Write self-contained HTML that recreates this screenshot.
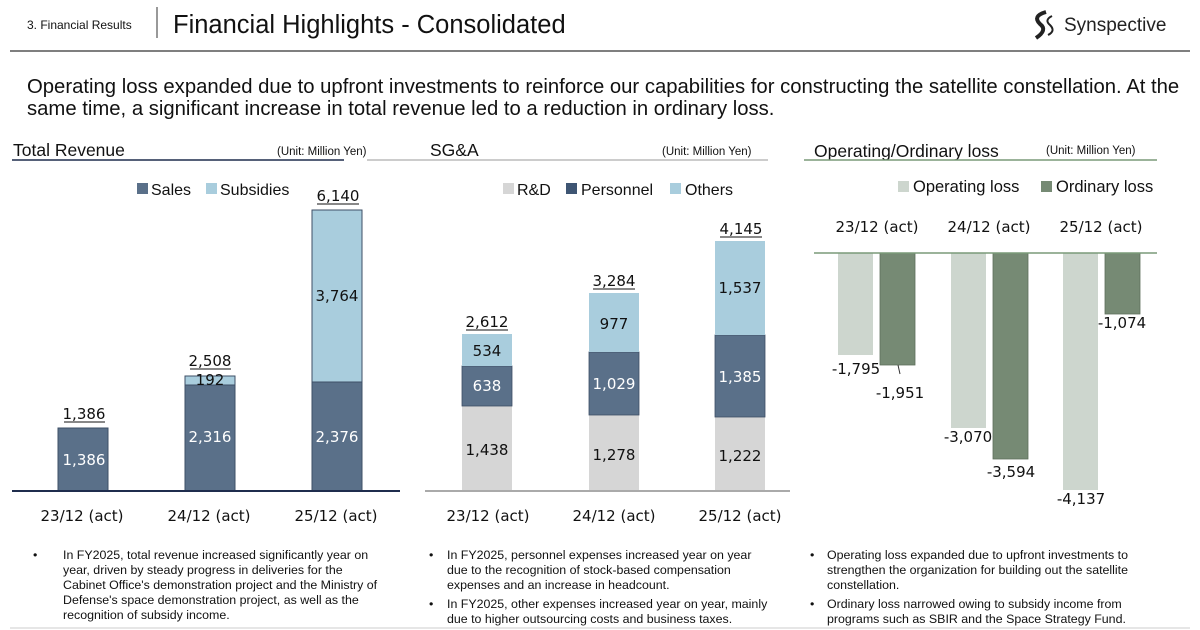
<!DOCTYPE html>
<html><head><meta charset="utf-8"><style>
body{margin:0;background:#fff;width:1200px;height:630px;overflow:hidden}
svg{display:block}
.a{font-family:"Liberation Sans",Arial,sans-serif}
.d{font-family:"DejaVu Sans",Verdana,sans-serif}
</style></head><body>
<svg width="1200" height="630" viewBox="0 0 1200 630" xmlns="http://www.w3.org/2000/svg">
<!-- header -->
<text x="27" y="29" class="a" font-size="12" fill="#111">3. Financial Results</text>
<line x1="157" y1="7" x2="157" y2="38" stroke="#333" stroke-width="1"/>
<text x="173" y="33" class="a" font-size="25.5" fill="#111">Financial Highlights - Consolidated</text>
<path d="M1046 12 q-14 4 -6 12 q8 6 -4 14" stroke="#222" stroke-width="4" fill="none"/>
<path d="M1052 16 q-8 4 -2 9 q6 6 -2 10" stroke="#222" stroke-width="2" fill="none"/>
<text x="1064" y="31" class="a" font-size="19" fill="#222">Synspective</text>
<line x1="10" y1="51" x2="1190" y2="51" stroke="#555" stroke-width="1.5"/>
<text x="27" y="93" class="a" font-size="20.3" fill="#111">Operating loss expanded due to upfront investments to reinforce our capabilities for constructing the satellite constellation. At the</text>
<text x="27" y="115" class="a" font-size="20.3" fill="#111">same time, a significant increase in total revenue led to a reduction in ordinary loss.</text>

<!-- panel titles -->
<text x="13" y="156" class="a" font-size="17.5" fill="#111">Total Revenue</text>
<text x="277" y="155" class="a" font-size="11.5" fill="#111">(Unit: Million Yen)</text>
<line x1="12" y1="160" x2="344" y2="160" stroke="#1f2d4d" stroke-width="1.5"/>
<text x="430" y="156" class="a" font-size="17.5" fill="#111">SG&amp;A</text>
<text x="662" y="155" class="a" font-size="11.5" fill="#111">(Unit: Million Yen)</text>
<line x1="367" y1="160" x2="768" y2="160" stroke="#999" stroke-width="1"/>
<text x="814" y="157" class="a" font-size="17.5" fill="#111">Operating/Ordinary loss</text>
<text x="1046" y="154" class="a" font-size="11.5" fill="#111">(Unit: Million Yen)</text>
<line x1="804" y1="160" x2="1157" y2="160" stroke="#7a9a78" stroke-width="1.5"/>

<!-- panel 1 -->
<rect x="137" y="183" width="11" height="11" fill="#5a7089"/>
<text x="151" y="195" class="a" font-size="16" fill="#111">Sales</text>
<rect x="206" y="183" width="11" height="11" fill="#a9cddd"/>
<text x="220" y="195" class="a" font-size="16" fill="#111">Subsidies</text>
<g stroke="#3e4f66" stroke-width="1">
<rect x="58" y="428" width="50" height="63" fill="#5a7089"/>
<rect x="185" y="385" width="50" height="106" fill="#5a7089"/>
<rect x="185" y="376" width="50" height="9" fill="#a9cddd"/>
<rect x="312" y="382" width="50" height="109" fill="#5a7089"/>
<rect x="312" y="210" width="50" height="172" fill="#a9cddd"/>
</g>
<line x1="12" y1="491" x2="400" y2="491" stroke="#1f2d4d" stroke-width="2"/>
<g class="d" font-size="15" text-anchor="middle" fill="#111">
<text x="84" y="419">1,386</text><line x1="64" y1="422" x2="105" y2="422" stroke="#111"/>
<text x="84" y="465" fill="#fff">1,386</text>
<text x="210" y="366">2,508</text><line x1="190" y1="369" x2="231" y2="369" stroke="#111"/>
<text x="210" y="385">192</text>
<text x="210" y="442" fill="#fff">2,316</text>
<text x="338" y="201">6,140</text><line x1="317" y1="204" x2="359" y2="204" stroke="#111"/>
<text x="337" y="301">3,764</text>
<text x="337" y="442" fill="#fff">2,376</text>
<text x="82" y="521">23/12 (act)</text>
<text x="209" y="521">24/12 (act)</text>
<text x="336" y="521">25/12 (act)</text>
</g>

<!-- panel 2 -->
<rect x="503" y="183" width="11" height="11" fill="#d6d6d6"/>
<text x="517" y="195" class="a" font-size="16" fill="#111">R&amp;D</text>
<rect x="566" y="183" width="11" height="11" fill="#3e5573"/>
<text x="581" y="195" class="a" font-size="16" fill="#111">Personnel</text>
<rect x="670" y="183" width="11" height="11" fill="#a9cddd"/>
<text x="685" y="195" class="a" font-size="16" fill="#111">Others</text>
<g stroke="#3e4f66" stroke-width="0.8">
<rect x="462" y="406" width="50" height="85" fill="#d6d6d6" stroke="none"/>
<rect x="462" y="366" width="50" height="40" fill="#5a7089"/>
<rect x="462" y="334" width="50" height="32" fill="#a9cddd" stroke="none"/>
<rect x="589" y="415" width="50" height="76" fill="#d6d6d6" stroke="none"/>
<rect x="589" y="352" width="50" height="63" fill="#5a7089"/>
<rect x="589" y="293" width="50" height="59" fill="#a9cddd" stroke="none"/>
<rect x="715" y="417" width="50" height="74" fill="#d6d6d6" stroke="none"/>
<rect x="715" y="335" width="50" height="82" fill="#5a7089"/>
<rect x="715" y="241" width="50" height="94" fill="#a9cddd" stroke="none"/>
</g>
<line x1="425" y1="491" x2="790" y2="491" stroke="#aaa" stroke-width="2"/>
<g class="d" font-size="15" text-anchor="middle" fill="#111">
<text x="487" y="327">2,612</text><line x1="466" y1="330" x2="508" y2="330" stroke="#111"/>
<text x="487" y="356">534</text>
<text x="487" y="391" fill="#fff">638</text>
<text x="487" y="455">1,438</text>
<text x="614" y="286">3,284</text><line x1="593" y1="289" x2="635" y2="289" stroke="#111"/>
<text x="614" y="329">977</text>
<text x="614" y="389" fill="#fff">1,029</text>
<text x="614" y="460">1,278</text>
<text x="741" y="234">4,145</text><line x1="720" y1="237" x2="762" y2="237" stroke="#111"/>
<text x="740" y="293">1,537</text>
<text x="740" y="382" fill="#fff">1,385</text>
<text x="740" y="461">1,222</text>
<text x="488" y="521">23/12 (act)</text>
<text x="614" y="521">24/12 (act)</text>
<text x="740" y="521">25/12 (act)</text>
</g>

<!-- panel 3 -->
<rect x="898" y="181" width="11" height="11" fill="#cdd6ce"/>
<text x="913" y="192" class="a" font-size="16.5" fill="#111">Operating loss</text>
<rect x="1041" y="181" width="11" height="11" fill="#768a74"/>
<text x="1056" y="192" class="a" font-size="16.5" fill="#111">Ordinary loss</text>
<g class="d" font-size="15" text-anchor="middle" fill="#111">
<text x="877" y="232">23/12 (act)</text>
<text x="989" y="232">24/12 (act)</text>
<text x="1101" y="232">25/12 (act)</text>
</g>
<rect x="838" y="253" width="35" height="102" fill="#cdd6ce"/>
<rect x="880" y="253" width="35" height="112" fill="#768a74" stroke="#5d6f5b" stroke-width="0.8"/>
<rect x="951" y="253" width="35" height="175" fill="#cdd6ce"/>
<rect x="993" y="253" width="35" height="206" fill="#768a74" stroke="#5d6f5b" stroke-width="0.8"/>
<rect x="1063" y="253" width="35" height="237" fill="#cdd6ce"/>
<rect x="1105" y="253" width="35" height="61" fill="#768a74" stroke="#5d6f5b" stroke-width="0.8"/>
<line x1="814" y1="253" x2="1157" y2="253" stroke="#7a9a78" stroke-width="1.5"/>
<line x1="898" y1="365" x2="900" y2="374" stroke="#333"/>
<g class="d" font-size="15" text-anchor="middle" fill="#111">
<text x="856" y="374">-1,795</text>
<text x="900" y="398">-1,951</text>
<text x="968" y="442">-3,070</text>
<text x="1011" y="477">-3,594</text>
<text x="1081" y="504">-4,137</text>
<text x="1122" y="328">-1,074</text>
</g>

<!-- bullets -->
<g class="a" font-size="12.4" fill="#111">
<text x="33" y="559">•</text>
<text x="63" y="559">In FY2025, total revenue increased significantly year on</text>
<text x="63" y="574">year, driven by steady progress in deliveries for the</text>
<text x="63" y="589">Cabinet Office's demonstration project and the Ministry of</text>
<text x="63" y="604">Defense's space demonstration project, as well as the</text>
<text x="63" y="619">recognition of subsidy income.</text>
<text x="429" y="559">•</text>
<text x="447" y="559">In FY2025, personnel expenses increased year on year</text>
<text x="447" y="574">due to the recognition of stock-based compensation</text>
<text x="447" y="589">expenses and an increase in headcount.</text>
<text x="429" y="608">•</text>
<text x="447" y="608">In FY2025, other expenses increased year on year, mainly</text>
<text x="447" y="623">due to higher outsourcing costs and business taxes.</text>
<text x="810" y="559">•</text>
<text x="827" y="559">Operating loss expanded due to upfront investments to</text>
<text x="827" y="574">strengthen the organization for building out the satellite</text>
<text x="827" y="589">constellation.</text>
<text x="810" y="608">•</text>
<text x="827" y="608">Ordinary loss narrowed owing to subsidy income from</text>
<text x="827" y="623">programs such as SBIR and the Space Strategy Fund.</text>
</g>
<line x1="10" y1="628" x2="1190" y2="628" stroke="#ccc"/>
</svg>
</body></html>
